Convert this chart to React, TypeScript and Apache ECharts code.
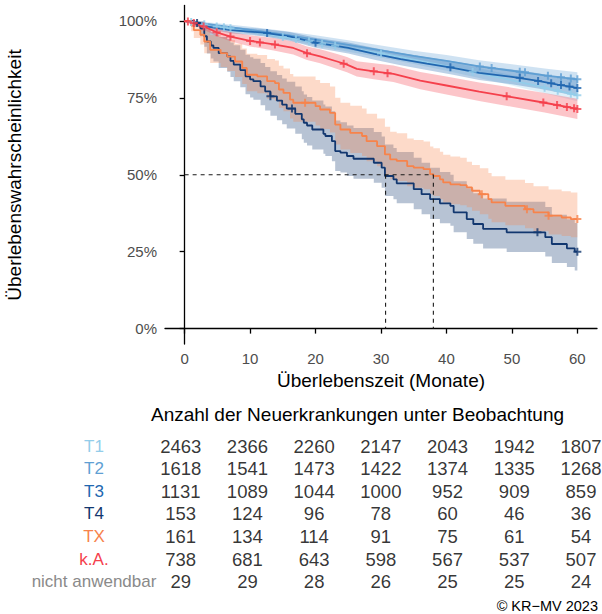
import React, { useEffect, useRef } from "react";
import * as echarts from "echarts";

// ---------- data ----------
const strata = ["T1", "T2", "T3", "T4", "TX", "k.A.", "nicht anwendbar"];
const strataColors = ["#93cdea", "#5f9fd3", "#2167b0", "#12376f", "#f7834b", "#f5404c", "#8a8a8a"];

const xTicks = [0, 10, 20, 30, 40, 50, 60];
const yTicks = [0, 25, 50, 75, 100];

// T1
const t1Times = [0, 2, 5, 10, 15, 20, 25, 30, 35, 40, 45, 50, 55, 60];
const t1Surv = [100, 99.3, 98.2, 96.6, 94.8, 93.0, 91.2, 89.4, 87.4, 85.3, 83.0, 80.7, 78.3, 75.8];
const t1Lower = [100, 98.9, 97.6, 95.8, 93.8, 91.9, 90.0, 88.1, 86.0, 83.8, 81.4, 79.0, 76.5, 73.9];
const t1Upper = [100, 99.7, 98.8, 97.4, 95.8, 94.1, 92.4, 90.7, 88.8, 86.8, 84.6, 82.4, 80.1, 77.7];
const t1Censor = [[1, 99.6], [3, 98.9], [4.9, 98.2], [6, 97.9], [7, 97.6], [15, 94.8], [17, 94.1], [19, 93.4], [21, 92.6], [23, 91.9], [30, 89.4], [44, 83.5], [55, 78.3], [57, 77.3], [59, 76.3], [60, 75.8]];

// T2
const t2Times = [0, 2, 5, 10, 15, 20, 25, 30, 35, 40, 45, 50, 55, 60];
const t2Surv = [100, 99.4, 98.5, 97.1, 95.6, 93.9, 92.2, 90.4, 88.6, 87.0, 85.2, 83.8, 82.3, 81.0];
const t2Lower = [100, 99.0, 97.8, 96.1, 94.4, 92.5, 90.7, 88.8, 86.9, 85.1, 83.2, 81.7, 80.1, 78.7];
const t2Upper = [100, 99.8, 99.2, 98.1, 96.8, 95.3, 93.7, 92.0, 90.3, 88.9, 87.2, 85.9, 84.5, 83.3];
const t2Censor = [[45.1, 85.2], [46.9, 84.7], [51.2, 83.5], [52, 83.3], [55.5, 82.2], [57.5, 81.7], [59, 81.3], [60, 81.0]];

// T3
const t3Times = [0, 3, 7, 12, 16, 20, 25, 29, 33, 37, 41, 45, 50, 54, 57, 60];
const t3Surv = [100, 98.3, 97.0, 96.2, 95.0, 92.9, 91.2, 89.3, 87.6, 86.1, 84.7, 83.1, 81.8, 80.5, 79.3, 78.2];
const t3Lower = [100, 97.5, 96.0, 95.0, 93.6, 91.3, 89.4, 87.4, 85.6, 84.0, 82.5, 80.8, 79.4, 78.0, 76.8, 75.6];
const t3Upper = [100, 99.1, 98.0, 97.4, 96.4, 94.5, 93.0, 91.2, 89.6, 88.2, 86.9, 85.4, 84.2, 83.0, 81.8, 80.8];
const t3Censor = [[12.6, 96.1], [20, 92.9], [40.6, 84.9], [51.2, 81.5], [54, 80.5], [56, 79.7], [57.5, 79.2], [58.8, 78.7], [60, 78.2]];

// T4 (step curve)
const t4Times = [0, 1.5, 2.4, 3.0, 3.4, 4.0, 4.4, 5.2, 6.5, 7.0, 7.5, 8.5, 9.3, 10.0, 10.5, 11.6, 12.3, 13.1, 14.1, 14.9, 15.6, 16.9, 17.9, 18.2, 18.7, 19.5, 21.2, 21.5, 22.5, 23.0, 23.8, 24.8, 25.8, 28.9, 30.1, 30.6, 31.9, 32.4, 35.0, 36.2, 37.5, 39.0, 40.6, 41.1, 43.1, 44.1, 45.6, 49.2, 55.1, 56.1, 58.4, 59.6, 60];
const t4Surv = [100, 99.3, 97.5, 95.0, 93.3, 92.0, 91.2, 89.5, 88.5, 87.0, 85.8, 84.0, 82.0, 81.0, 80.4, 78.7, 77.1, 75.5, 74.1, 72.8, 71.5, 69.8, 68.0, 66.9, 66.0, 64.7, 63.3, 62.6, 60.9, 57.7, 57.2, 56.1, 55.2, 53.9, 52.3, 49.6, 48.5, 47.2, 45.3, 43.7, 42.1, 40.7, 39.9, 37.8, 35.6, 34.0, 32.4, 31.3, 29.7, 27.5, 26.1, 25.0, 25.0];
const t4Lower = [100, 98.0, 95.0, 91.6, 89.4, 87.8, 86.8, 84.7, 83.5, 81.8, 80.4, 78.4, 76.2, 75.1, 74.4, 72.6, 70.9, 69.2, 67.7, 66.4, 65.0, 63.3, 61.5, 60.4, 59.5, 58.2, 56.8, 56.1, 54.4, 51.2, 50.7, 49.6, 48.7, 47.4, 45.8, 43.1, 42.0, 40.7, 38.8, 37.2, 35.6, 34.2, 33.4, 31.3, 29.1, 27.6, 26.0, 24.9, 23.4, 21.3, 20.0, 18.9, 18.9];
const t4Upper = [100, 100, 99.9, 98.4, 97.3, 96.5, 96.0, 94.8, 94.1, 93.0, 92.1, 90.6, 89.0, 88.2, 87.7, 86.3, 85.0, 83.6, 82.4, 81.3, 80.2, 78.7, 77.1, 76.1, 75.3, 74.1, 72.8, 72.2, 70.6, 67.6, 67.1, 66.0, 65.2, 63.9, 62.4, 59.8, 58.7, 57.4, 55.5, 53.9, 52.3, 50.9, 50.0, 47.9, 45.6, 44.0, 42.3, 41.2, 39.5, 37.0, 35.5, 34.3, 34.3];
const t4Censor = [[1.9, 99.3], [13.1, 75.5], [16.4, 71.5], [53.9, 31.3], [60, 25.0]];

// TX (step curve)
const txTimes = [0, 1.0, 1.4, 2.4, 3.0, 3.9, 5.5, 6.5, 7.7, 8.8, 9.5, 11.1, 12.6, 13.8, 14.4, 15.1, 16.1, 16.6, 20.0, 20.7, 22.2, 23.0, 23.8, 25.3, 27.1, 27.8, 29.4, 30.6, 31.4, 32.4, 34.0, 35.0, 36.5, 37.5, 38.0, 39.0, 39.5, 40.6, 42.1, 43.1, 43.9, 45.1, 46.4, 46.9, 49.0, 52.0, 53.3, 55.6, 57.6, 59.0, 60];
const txSurv = [100, 98.5, 97.0, 95.5, 93.3, 90.6, 89.5, 88.4, 86.8, 84.7, 82.5, 82.0, 80.4, 79.8, 77.7, 76.6, 74.4, 73.4, 72.3, 71.2, 70.1, 66.3, 64.7, 63.6, 62.6, 60.9, 59.3, 56.6, 55.0, 54.5, 52.8, 52.3, 51.8, 50.2, 49.6, 48.5, 47.5, 46.9, 46.6, 45.9, 44.8, 43.7, 42.1, 41.0, 39.9, 38.8, 37.8, 36.7, 36.1, 35.6, 35.6];
const txLower = [100, 96.6, 94.4, 92.3, 89.5, 86.3, 85.0, 83.7, 81.8, 79.5, 77.1, 76.5, 74.7, 74.0, 71.8, 70.6, 68.3, 67.2, 66.0, 64.9, 63.7, 59.8, 58.2, 57.1, 56.1, 54.4, 52.8, 50.1, 48.5, 48.0, 46.3, 45.8, 45.3, 43.7, 43.1, 42.0, 41.0, 40.4, 40.1, 39.4, 38.3, 37.2, 35.7, 34.6, 33.6, 32.6, 31.6, 30.6, 30.1, 29.7, 29.7];
const txUpper = [100, 99.9, 99.5, 98.7, 97.3, 95.4, 94.6, 93.8, 92.6, 91.0, 89.3, 88.9, 87.6, 87.1, 85.4, 84.5, 82.7, 81.9, 80.8, 79.8, 78.7, 75.0, 73.4, 72.4, 71.5, 69.8, 68.3, 65.6, 64.0, 63.5, 61.8, 61.3, 60.8, 59.2, 58.6, 57.5, 56.5, 55.9, 55.5, 54.2, 53.2, 52.1, 50.6, 49.5, 48.4, 47.3, 46.3, 45.2, 44.6, 44.2, 44.2];
const txCensor = [[18.4, 73.4], [45.4, 43.7], [52.3, 38.8], [55.6, 36.7], [60, 35.6]];

// k.A.
const kaTimes = [0, 1.4, 2.9, 4.9, 7, 10, 13.6, 16.6, 18.7, 20.7, 23.3, 24.8, 26.3, 28.9, 31.9, 36, 40, 45, 50, 55, 60];
const kaSurv = [100, 99.3, 98.2, 96.3, 94.9, 93.5, 92.4, 91.2, 89.5, 88.5, 86.8, 85.8, 84.4, 83.6, 82.8, 80.6, 79.0, 77.0, 75.2, 73.4, 71.4];
const kaLower = [100, 98.7, 97.2, 95.0, 93.4, 91.7, 90.4, 89.1, 87.3, 86.2, 84.4, 83.3, 81.9, 81.0, 80.1, 77.8, 76.1, 74.0, 72.1, 70.2, 68.1];
const kaUpper = [100, 99.9, 99.2, 97.6, 96.4, 95.3, 94.4, 93.3, 91.7, 90.8, 89.2, 88.3, 86.9, 86.2, 85.5, 83.4, 81.9, 80.0, 78.3, 76.6, 74.7];
const kaCensor = [[0.5, 99.8], [1.4, 99.3], [2.9, 98.2], [4.9, 96.3], [7, 94.9], [10, 93.5], [11.5, 93.0], [13.8, 92.3], [18.7, 89.5], [24.3, 86.1], [28.9, 83.6], [31, 83.0], [49.2, 75.5], [54.8, 73.5], [56.9, 72.7], [58.4, 72.0], [59.5, 71.6], [60, 71.4]];

// medians (months) at 50 %
const medianLevel = 50;
const medians = [30.7, 38.0];

// risk table
const riskTimes = [0, 10, 20, 30, 40, 50, 60];
const riskT1 = [2463, 2366, 2260, 2147, 2043, 1942, 1807];
const riskT2 = [1618, 1541, 1473, 1422, 1374, 1335, 1268];
const riskT3 = [1131, 1089, 1044, 1000, 952, 909, 859];
const riskT4 = [153, 124, 96, 78, 60, 46, 36];
const riskTX = [161, 134, 114, 91, 75, 61, 54];
const riskKA = [738, 681, 643, 598, 567, 537, 507];
const riskNA = [29, 29, 28, 26, 25, 25, 24];
const riskRows = [riskT1, riskT2, riskT3, riskT4, riskTX, riskKA, riskNA];

const FONT = "'Liberation Sans', Arial, Helvetica, sans-serif";
const PLUS = "path://M3,0H5V3H8V5H5V8H3V5H0V3H3Z";

type Curve = {
  name: string; color: string; times: number[]; surv: number[]; lower: number[]; upper: number[];
  censor: number[][]; step: boolean;
};

const curves: Curve[] = [
  { name: "T1", color: strataColors[0], times: t1Times, surv: t1Surv, lower: t1Lower, upper: t1Upper, censor: t1Censor, step: false },
  { name: "T2", color: strataColors[1], times: t2Times, surv: t2Surv, lower: t2Lower, upper: t2Upper, censor: t2Censor, step: false },
  { name: "T3", color: strataColors[2], times: t3Times, surv: t3Surv, lower: t3Lower, upper: t3Upper, censor: t3Censor, step: false },
  { name: "T4", color: strataColors[3], times: t4Times, surv: t4Surv, lower: t4Lower, upper: t4Upper, censor: t4Censor, step: true },
  { name: "TX", color: strataColors[4], times: txTimes, surv: txSurv, lower: txLower, upper: txUpper, censor: txCensor, step: true },
  { name: "k.A.", color: strataColors[5], times: kaTimes, surv: kaSurv, lower: kaLower, upper: kaUpper, censor: kaCensor, step: false },
];

function bandRenderer(c: Curve) {
  return (params: any, api: any) => {
    if (params.dataIndex !== 0) return null;
    const n = c.times.length;
    const top: number[][] = [];
    const bot: number[][] = [];
    for (let i = 0; i < n; i++) {
      const t = c.times[i];
      if (c.step && i > 0) {
        top.push(api.coord([t, c.upper[i - 1]]));
        bot.push(api.coord([t, c.lower[i - 1]]));
      }
      top.push(api.coord([t, c.upper[i]]));
      bot.push(api.coord([t, c.lower[i]]));
    }
    const points = top.concat(bot.reverse());
    return {
      type: "polygon",
      shape: { points },
      style: { fill: c.color, opacity: 0.3 },
      silent: true,
    };
  };
}

function buildOption() {
  const series: any[] = [];
  // bands
  curves.forEach((c) => {
    series.push({
      type: "custom", xAxisIndex: 0, yAxisIndex: 0, silent: true,
      renderItem: bandRenderer(c),
      encode: { x: 0, y: [1, 2] },
      data: c.times.map((t, i) => [t, c.lower[i], c.upper[i]]),
      z: 1,
    });
  });
  // lines
  curves.forEach((c) => {
    series.push({
      type: "line", name: c.name, xAxisIndex: 0, yAxisIndex: 0,
      step: c.step ? "end" : false, symbol: "none",
      lineStyle: { color: c.color, width: 1.8 },
      data: c.times.map((t, i) => [t, c.surv[i]]),
      z: 3,
    });
  });
  // censor marks
  curves.forEach((c) => {
    series.push({
      type: "scatter", xAxisIndex: 0, yAxisIndex: 0,
      symbol: PLUS, symbolSize: 8,
      itemStyle: { color: c.color },
      data: c.censor,
      z: 4,
    });
  });
  // median lines
  const dash = { color: "#1a1a1a", width: 1.1, type: [4, 4] as any };
  series.push({
    type: "line", xAxisIndex: 0, yAxisIndex: 0, symbol: "none", lineStyle: dash,
    data: [[0, medianLevel], [Math.max(...medians), medianLevel]], z: 5,
  });
  medians.forEach((m) => {
    series.push({
      type: "line", xAxisIndex: 0, yAxisIndex: 0, symbol: "none", lineStyle: dash,
      data: [[m, medianLevel], [m, 0]], z: 5,
    });
  });
  // risk table
  const tableData: any[] = [];
  riskRows.forEach((row, r) => row.forEach((v, i) => tableData.push([riskTimes[i], r, v])));
  series.push({
    type: "scatter", xAxisIndex: 1, yAxisIndex: 1, symbolSize: 1,
    itemStyle: { color: "rgba(0,0,0,0)" },
    label: {
      show: true, position: "inside", formatter: (p: any) => String(p.value[2]),
      color: "#000", fontSize: 18.5, fontFamily: FONT,
    },
    data: tableData,
  });

  const axisLine = { show: true, lineStyle: { color: "#000", width: 1.3 } };
  const axisTick = { show: true, length: 5, lineStyle: { color: "#000", width: 1.3 } };

  return {
    animation: false,
    backgroundColor: "#fff",
    textStyle: { fontFamily: FONT },
    grid: [
      { left: 165, right: 5, top: 5.5, bottom: 270 },
      { left: 160.7, right: 1, top: 434.7, bottom: 21.1 },
    ],
    xAxis: [
      {
        type: "value", gridIndex: 0, min: -3, max: 63,
        axisLine, axisTick: { ...axisTick, customValues: xTicks },
        axisLabel: { customValues: xTicks, color: "#4d4d4d", fontSize: 15, margin: 7, fontFamily: FONT },
        splitLine: { show: false },
        name: "Überlebenszeit (Monate)", nameLocation: "middle", nameGap: 27,
        nameTextStyle: { fontSize: 19, color: "#000", fontFamily: FONT },
      },
      { type: "value", gridIndex: 1, min: -3, max: 63, show: false },
    ],
    yAxis: [
      {
        type: "value", gridIndex: 0, min: -5, max: 105,
        axisLine, axisTick: { ...axisTick, customValues: yTicks },
        axisLabel: { customValues: yTicks, formatter: "{value}%", color: "#4d4d4d", fontSize: 15, margin: 8, fontFamily: FONT },
        splitLine: { show: false },
      },
      {
        type: "category", gridIndex: 1, data: strata, inverse: true,
        axisLine: { show: false }, axisTick: { show: false }, splitLine: { show: false },
        axisLabel: {
          align: "center", margin: 66.7, fontSize: 17, fontFamily: FONT,
          color: (_v: any, idx: number) => strataColors[idx],
        },
      },
    ],
    graphic: [
      {
        type: "text", x: 14, y: 175, rotation: Math.PI / 2,
        style: { text: "Überlebenswahrscheinlichkeit", fontSize: 19, fontFamily: FONT, fill: "#000", align: "center", verticalAlign: "middle" },
      },
      {
        type: "text", x: 357.5, y: 414,
        style: { text: "Anzahl der Neuerkrankungen unter Beobachtung", fontSize: 19, fontFamily: FONT, fill: "#000", align: "center", verticalAlign: "middle" },
      },
      {
        type: "text", x: 598, y: 606,
        style: { text: "© KR−MV 2023", fontSize: 14.5, fontFamily: FONT, fill: "#000", align: "right", verticalAlign: "middle" },
      },
    ],
    series,
  };
}

export default function App() {
  const ref = useRef<HTMLDivElement>(null);
  useEffect(() => {
    if (!ref.current) return;
    const chart = echarts.init(ref.current, undefined, { renderer: "svg" });
    chart.setOption(buildOption() as any);
    return () => chart.dispose();
  }, []);
  return <div ref={ref} style={{ position: "absolute", left: 0, top: 0, width: 602, height: 614 }} />;
}
